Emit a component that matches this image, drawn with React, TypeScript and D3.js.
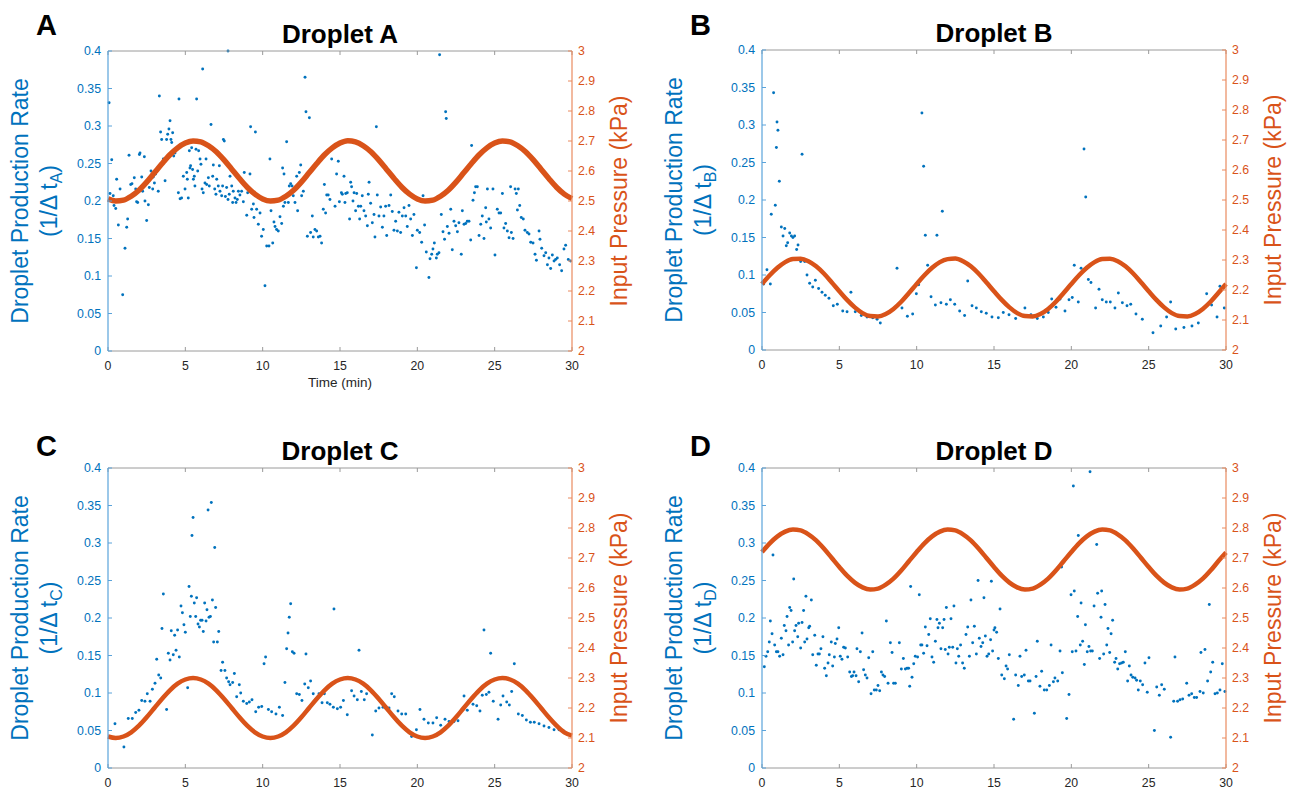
import * as d3 from 'd3'

const FONT = "'Liberation Sans', Arial, Helvetica, sans-serif"
const BLUE = '#0072BD'
const BLUE_AXIS = '#5aa3da'
const ORANGE = '#D95319'
const ORANGE_AXIS = '#e98a5f'
const GRAY_AXIS = '#9a9a9a'

// tick values
const X_TICKS = [0, 5, 10, 15, 20, 25, 30]
const RATE_TICKS = [0, 0.05, 0.1, 0.15, 0.2, 0.25, 0.3, 0.35, 0.4]
const PRESSURE_TICKS = [2, 2.1, 2.2, 2.3, 2.4, 2.5, 2.6, 2.7, 2.8, 2.9, 3]

// sample times of the pressure trace (min)
const PRESSURE_TIMES = [
  0, 0.5, 1, 1.5, 2, 2.5, 3, 3.5, 4, 4.5, 5, 5.5, 6, 6.5, 7, 7.5, 8, 8.5, 9, 9.5,
  10, 10.5, 11, 11.5, 12, 12.5, 13, 13.5, 14, 14.5, 15, 15.5, 16, 16.5, 17, 17.5, 18, 18.5, 19, 19.5,
  20, 20.5, 21, 21.5, 22, 22.5, 23, 23.5, 24, 24.5, 25, 25.5, 26, 26.5, 27, 27.5, 28, 28.5, 29, 29.5,
  30,
]

// input pressure (kPa)
const pressureA = [
  2.507, 2.5, 2.503, 2.516, 2.536, 2.563, 2.594, 2.625, 2.654, 2.677, 2.693, 2.7, 2.697, 2.684, 2.664, 2.637, 2.606, 2.575, 2.546, 2.523,
  2.507, 2.5, 2.503, 2.516, 2.536, 2.563, 2.594, 2.625, 2.654, 2.677, 2.693, 2.701, 2.697, 2.684, 2.664, 2.637, 2.606, 2.575, 2.546, 2.523,
  2.507, 2.5, 2.503, 2.516, 2.536, 2.563, 2.594, 2.625, 2.654, 2.677, 2.693, 2.7, 2.697, 2.684, 2.664, 2.637, 2.606, 2.575, 2.546, 2.523,
  2.508,
]
const pressureB = [
  2.22, 2.249, 2.274, 2.293, 2.303, 2.304, 2.296, 2.279, 2.255, 2.226, 2.196, 2.167, 2.142, 2.123, 2.113, 2.112, 2.12, 2.137, 2.161, 2.19,
  2.22, 2.249, 2.274, 2.293, 2.303, 2.305, 2.296, 2.279, 2.255, 2.226, 2.196, 2.167, 2.142, 2.123, 2.113, 2.112, 2.12, 2.137, 2.161, 2.19,
  2.22, 2.249, 2.274, 2.293, 2.303, 2.304, 2.296, 2.279, 2.255, 2.226, 2.196, 2.167, 2.142, 2.123, 2.113, 2.112, 2.12, 2.137, 2.161, 2.19,
  2.22,
]
const pressureC = [
  2.105, 2.1, 2.105, 2.119, 2.141, 2.169, 2.2, 2.231, 2.259, 2.281, 2.295, 2.3, 2.295, 2.281, 2.259, 2.231, 2.2, 2.169, 2.141, 2.119,
  2.105, 2.1, 2.105, 2.119, 2.141, 2.169, 2.2, 2.231, 2.259, 2.281, 2.295, 2.3, 2.295, 2.281, 2.259, 2.231, 2.2, 2.169, 2.141, 2.119,
  2.105, 2.1, 2.105, 2.119, 2.141, 2.169, 2.2, 2.231, 2.259, 2.281, 2.295, 2.3, 2.295, 2.281, 2.259, 2.231, 2.2, 2.169, 2.141, 2.119,
  2.108,
]
const pressureD = [
  2.72, 2.749, 2.772, 2.788, 2.795, 2.792, 2.779, 2.759, 2.732, 2.701, 2.67, 2.641, 2.618, 2.602, 2.595, 2.598, 2.611, 2.631, 2.658, 2.689,
  2.72, 2.749, 2.772, 2.788, 2.795, 2.792, 2.779, 2.759, 2.732, 2.701, 2.67, 2.641, 2.618, 2.602, 2.595, 2.598, 2.611, 2.631, 2.658, 2.689,
  2.72, 2.749, 2.772, 2.788, 2.795, 2.792, 2.779, 2.759, 2.732, 2.701, 2.67, 2.641, 2.618, 2.602, 2.595, 2.598, 2.611, 2.631, 2.658, 2.689,
  2.718,
]

// droplet production rate points [time (min), 1/dt]
const rateA = [
  [0.07, 0.331], [0.24, 0.255], [0.13, 0.21], [0.34, 0.207], [0.39, 0.194], [0.5, 0.19], [0.56, 0.229], [0.67, 0.168],
  [0.78, 0.216], [0.95, 0.075], [1.1, 0.137], [1.21, 0.165], [1.27, 0.176], [1.36, 0.261], [1.47, 0.222], [1.55, 0.223],
  [1.7, 0.231], [1.79, 0.216], [1.85, 0.199], [1.92, 0.198], [2.03, 0.262], [2.07, 0.264], [2.18, 0.232], [2.24, 0.213],
  [2.35, 0.259], [2.39, 0.2], [2.5, 0.174], [2.61, 0.195], [2.67, 0.218], [2.78, 0.24], [2.89, 0.216], [2.93, 0.232],
  [3.0, 0.224], [3.08, 0.236], [3.15, 0.24], [3.25, 0.213], [3.32, 0.34], [3.4, 0.292], [3.47, 0.282], [3.58, 0.256],
  [3.69, 0.227], [3.79, 0.282], [3.86, 0.289], [3.94, 0.296], [4.01, 0.307], [4.07, 0.282], [4.12, 0.278], [4.18, 0.291],
  [4.25, 0.26], [4.33, 0.264], [4.44, 0.269], [4.55, 0.211], [4.59, 0.336], [4.66, 0.203], [4.76, 0.204], [4.87, 0.233],
  [4.98, 0.216], [5.09, 0.238], [5.13, 0.229], [5.19, 0.204], [5.26, 0.267], [5.3, 0.244], [5.34, 0.247], [5.41, 0.271],
  [5.47, 0.242], [5.52, 0.229], [5.58, 0.233], [5.62, 0.22], [5.69, 0.269], [5.73, 0.336], [5.8, 0.24], [5.86, 0.267],
  [5.95, 0.256], [6.01, 0.249], [6.08, 0.216], [6.12, 0.376], [6.16, 0.211], [6.27, 0.224], [6.34, 0.256], [6.38, 0.222],
  [6.49, 0.231], [6.55, 0.22], [6.66, 0.302], [6.77, 0.233], [6.81, 0.248], [6.9, 0.216], [6.98, 0.209], [7.03, 0.229],
  [7.13, 0.22], [7.2, 0.247], [7.24, 0.213], [7.35, 0.207], [7.41, 0.22], [7.46, 0.282], [7.52, 0.28], [7.59, 0.206],
  [7.67, 0.218], [7.76, 0.202], [7.76, 0.4], [7.84, 0.209], [7.89, 0.233], [8.0, 0.22], [8.06, 0.198], [8.1, 0.213],
  [8.21, 0.204], [8.28, 0.198], [8.36, 0.202], [8.43, 0.213], [8.53, 0.208], [8.64, 0.213], [8.75, 0.199], [8.81, 0.238],
  [8.97, 0.181], [9.03, 0.211], [9.18, 0.236], [9.22, 0.299], [9.29, 0.189], [9.4, 0.196], [9.44, 0.178], [9.53, 0.292],
  [9.61, 0.189], [9.72, 0.169], [9.83, 0.184], [9.93, 0.153], [10.04, 0.162], [10.15, 0.087], [10.26, 0.14], [10.41, 0.14],
  [10.47, 0.256], [10.54, 0.187], [10.65, 0.144], [10.73, 0.172], [10.8, 0.166], [10.9, 0.162], [11.01, 0.16], [11.12, 0.179],
  [11.23, 0.17], [11.29, 0.244], [11.34, 0.193], [11.38, 0.236], [11.44, 0.198], [11.55, 0.279], [11.66, 0.198], [11.72, 0.22],
  [11.81, 0.223], [11.9, 0.22], [11.98, 0.207], [12.09, 0.198], [12.2, 0.233], [12.26, 0.187], [12.37, 0.238], [12.46, 0.248],
  [12.52, 0.207], [12.63, 0.213], [12.74, 0.365], [12.8, 0.319], [12.89, 0.153], [13.02, 0.311], [13.1, 0.158], [13.21, 0.18],
  [13.27, 0.152], [13.38, 0.162], [13.49, 0.16], [13.6, 0.152], [13.71, 0.153], [13.81, 0.144], [13.92, 0.189], [13.99, 0.222],
  [14.07, 0.184], [14.14, 0.208], [14.24, 0.208], [14.35, 0.202], [14.46, 0.256], [14.57, 0.273], [14.68, 0.193], [14.78, 0.236],
  [14.89, 0.253], [14.96, 0.199], [15.09, 0.211], [15.15, 0.209], [15.26, 0.233], [15.32, 0.198], [15.37, 0.21], [15.47, 0.211],
  [15.62, 0.176], [15.69, 0.225], [15.75, 0.219], [15.84, 0.2], [15.91, 0.211], [16.01, 0.187], [16.08, 0.21], [16.19, 0.193],
  [16.27, 0.176], [16.34, 0.193], [16.44, 0.207], [16.55, 0.187], [16.66, 0.18], [16.77, 0.167], [16.83, 0.209], [16.88, 0.225],
  [16.98, 0.197], [17.09, 0.171], [17.2, 0.182], [17.26, 0.152], [17.35, 0.299], [17.41, 0.208], [17.52, 0.18], [17.63, 0.192],
  [17.74, 0.165], [17.84, 0.18], [17.95, 0.193], [18.02, 0.154], [18.17, 0.194], [18.28, 0.208], [18.38, 0.186], [18.49, 0.161],
  [18.6, 0.173], [18.71, 0.16], [18.81, 0.185], [18.92, 0.158], [19.03, 0.18], [19.14, 0.191], [19.25, 0.18], [19.35, 0.166],
  [19.46, 0.194], [19.57, 0.176], [19.68, 0.154], [19.78, 0.182], [19.94, 0.111], [20.0, 0.161], [20.15, 0.158], [20.28, 0.145],
  [20.37, 0.207], [20.47, 0.168], [20.58, 0.132], [20.75, 0.098], [20.82, 0.123], [20.93, 0.129], [21.01, 0.136], [21.1, 0.144],
  [21.23, 0.124], [21.29, 0.129], [21.4, 0.131], [21.44, 0.395], [21.55, 0.182], [21.66, 0.159], [21.76, 0.149], [21.83, 0.319],
  [21.87, 0.31], [21.94, 0.166], [22.05, 0.157], [22.16, 0.189], [22.26, 0.135], [22.37, 0.173], [22.48, 0.167], [22.59, 0.159],
  [22.69, 0.171], [22.84, 0.129], [22.91, 0.187], [23.02, 0.169], [23.13, 0.17], [23.23, 0.173], [23.34, 0.173], [23.45, 0.148],
  [23.51, 0.274], [23.6, 0.201], [23.69, 0.211], [23.77, 0.219], [23.88, 0.219], [23.99, 0.154], [24.1, 0.169], [24.2, 0.18],
  [24.31, 0.15], [24.42, 0.191], [24.46, 0.172], [24.53, 0.216], [24.63, 0.176], [24.74, 0.164], [24.89, 0.216], [25.02, 0.128],
  [25.17, 0.189], [25.28, 0.184], [25.39, 0.184], [25.5, 0.21], [25.6, 0.164], [25.71, 0.17], [25.82, 0.16], [25.93, 0.151],
  [26.03, 0.219], [26.08, 0.158], [26.19, 0.15], [26.32, 0.216], [26.4, 0.21], [26.47, 0.188], [26.53, 0.216], [26.62, 0.194],
  [26.72, 0.178], [26.85, 0.176], [26.96, 0.161], [27.11, 0.158], [27.22, 0.156], [27.33, 0.145], [27.48, 0.144], [27.61, 0.129],
  [27.7, 0.121], [27.87, 0.16], [27.93, 0.149], [28.04, 0.137], [28.19, 0.127], [28.3, 0.131], [28.41, 0.115], [28.51, 0.124],
  [28.62, 0.11], [28.73, 0.128], [28.84, 0.12], [28.94, 0.122], [29.05, 0.124], [29.2, 0.115], [29.33, 0.107], [29.48, 0.136],
  [29.59, 0.141], [29.76, 0.122], [29.91, 0.12],
]

const rateB = [
  [0.11, 0.088], [0.32, 0.107], [0.54, 0.088], [0.6, 0.181], [0.75, 0.343], [0.86, 0.193], [0.93, 0.27], [0.97, 0.304],
  [1.03, 0.293], [1.12, 0.225], [1.25, 0.164], [1.36, 0.152], [1.47, 0.162], [1.57, 0.139], [1.66, 0.143], [1.79, 0.156],
  [1.9, 0.152], [2.0, 0.15], [2.11, 0.152], [2.24, 0.134], [2.33, 0.14], [2.5, 0.118], [2.59, 0.261], [2.76, 0.118],
  [2.91, 0.1], [3.08, 0.089], [3.28, 0.084], [3.45, 0.093], [3.66, 0.082], [3.88, 0.077], [4.09, 0.073], [4.33, 0.069],
  [4.61, 0.059], [4.87, 0.061], [5.22, 0.052], [5.5, 0.051], [5.75, 0.077], [6.03, 0.051], [6.42, 0.046], [6.79, 0.044],
  [7.16, 0.043], [7.44, 0.041], [7.65, 0.036], [7.97, 0.047], [8.73, 0.109], [9.05, 0.056], [9.4, 0.045], [9.74, 0.048],
  [9.98, 0.075], [10.13, 0.087], [10.34, 0.316], [10.45, 0.245], [10.56, 0.153], [10.71, 0.113], [10.93, 0.071], [11.21, 0.06],
  [11.31, 0.153], [11.57, 0.063], [11.66, 0.185], [11.92, 0.061], [12.18, 0.067], [12.46, 0.061], [12.78, 0.052], [13.1, 0.046],
  [13.3, 0.092], [13.58, 0.059], [13.86, 0.056], [14.18, 0.051], [14.5, 0.049], [14.87, 0.044], [15.28, 0.043], [15.6, 0.05],
  [15.97, 0.047], [16.4, 0.042], [17.0, 0.056], [17.39, 0.047], [17.8, 0.042], [18.19, 0.044], [18.51, 0.05], [18.73, 0.068],
  [19.01, 0.057], [19.27, 0.068], [19.59, 0.052], [19.85, 0.067], [20.06, 0.07], [20.19, 0.113], [20.45, 0.064], [20.63, 0.109],
  [20.82, 0.268], [20.93, 0.204], [21.1, 0.094], [21.27, 0.09], [21.57, 0.056], [21.79, 0.081], [22.0, 0.067], [22.26, 0.064],
  [22.52, 0.064], [22.82, 0.056], [23.04, 0.076], [23.3, 0.063], [23.6, 0.059], [23.84, 0.061], [24.18, 0.048], [24.59, 0.041],
  [25.28, 0.023], [25.78, 0.032], [26.16, 0.044], [26.42, 0.064], [26.75, 0.028], [27.28, 0.03], [27.8, 0.032], [28.21, 0.036],
  [28.75, 0.075], [29.07, 0.06], [29.42, 0.044], [29.61, 0.085], [29.89, 0.056],
]

const rateC = [
  [0.45, 0.059], [1.03, 0.028], [1.31, 0.066], [1.57, 0.066], [1.79, 0.074], [2.0, 0.077], [2.18, 0.09], [2.39, 0.089],
  [2.54, 0.099], [2.72, 0.089], [2.87, 0.105], [3.04, 0.113], [3.15, 0.145], [3.28, 0.124], [3.41, 0.12], [3.49, 0.186],
  [3.58, 0.232], [3.79, 0.078], [3.9, 0.153], [4.01, 0.144], [4.09, 0.183], [4.22, 0.151], [4.31, 0.177], [4.4, 0.157],
  [4.5, 0.184], [4.61, 0.148], [4.72, 0.216], [4.81, 0.207], [4.91, 0.191], [5.0, 0.181], [5.15, 0.107], [5.24, 0.242],
  [5.32, 0.202], [5.39, 0.229], [5.43, 0.31], [5.5, 0.334], [5.58, 0.22], [5.67, 0.202], [5.73, 0.227], [5.82, 0.192],
  [5.91, 0.188], [5.99, 0.197], [6.08, 0.197], [6.16, 0.182], [6.25, 0.22], [6.34, 0.196], [6.4, 0.211], [6.47, 0.344],
  [6.53, 0.201], [6.62, 0.202], [6.68, 0.354], [6.75, 0.224], [6.83, 0.168], [6.9, 0.294], [6.96, 0.214], [7.07, 0.168],
  [7.16, 0.182], [7.31, 0.13], [7.41, 0.141], [7.56, 0.13], [7.67, 0.12], [7.8, 0.115], [7.89, 0.111], [8.06, 0.114],
  [8.17, 0.126], [8.32, 0.095], [8.49, 0.111], [8.58, 0.1], [8.75, 0.089], [8.97, 0.086], [9.14, 0.088], [9.31, 0.091],
  [9.55, 0.075], [9.74, 0.081], [9.94, 0.082], [10.09, 0.139], [10.19, 0.148], [10.37, 0.078], [10.58, 0.075], [10.86, 0.072],
  [11.08, 0.081], [11.29, 0.07], [11.44, 0.114], [11.55, 0.159], [11.64, 0.18], [11.72, 0.201], [11.81, 0.219], [11.92, 0.155],
  [12.03, 0.153], [12.2, 0.099], [12.37, 0.098], [12.54, 0.09], [12.72, 0.112], [12.8, 0.152], [12.95, 0.107], [13.1, 0.116],
  [13.27, 0.099], [13.43, 0.091], [13.64, 0.099], [13.84, 0.087], [13.99, 0.099], [14.18, 0.087], [14.35, 0.085], [14.57, 0.081],
  [14.61, 0.212], [14.83, 0.079], [15.04, 0.081], [15.22, 0.09], [15.47, 0.071], [15.75, 0.103], [15.91, 0.096], [16.12, 0.091],
  [16.23, 0.157], [16.38, 0.102], [16.57, 0.091], [16.72, 0.099], [17.09, 0.044], [17.31, 0.076], [17.52, 0.08], [17.78, 0.081],
  [17.95, 0.08], [18.17, 0.08], [18.34, 0.099], [18.51, 0.095], [18.75, 0.076], [18.99, 0.072], [19.25, 0.072], [19.63, 0.042],
  [19.94, 0.051], [20.17, 0.078], [20.43, 0.065], [20.71, 0.06], [21.01, 0.06], [21.25, 0.067], [21.51, 0.057], [21.79, 0.065],
  [22.05, 0.062], [22.37, 0.062], [22.63, 0.063], [23.02, 0.096], [23.23, 0.077], [23.34, 0.089], [23.6, 0.085], [23.84, 0.083],
  [24.05, 0.076], [24.2, 0.097], [24.31, 0.184], [24.46, 0.098], [24.63, 0.101], [24.74, 0.153], [24.91, 0.089], [25.22, 0.065],
  [25.39, 0.084], [25.54, 0.096], [25.78, 0.088], [25.95, 0.084], [26.1, 0.102], [26.27, 0.139], [26.53, 0.072], [26.79, 0.07],
  [27.05, 0.064], [27.31, 0.061], [27.56, 0.061], [27.87, 0.059], [28.19, 0.056], [28.51, 0.054], [28.84, 0.051], [29.16, 0.051],
  [29.48, 0.049], [29.76, 0.045],
]

const rateD = [
  [0.15, 0.135], [0.26, 0.149], [0.37, 0.155], [0.47, 0.168], [0.54, 0.196], [0.65, 0.179], [0.71, 0.284], [0.82, 0.164],
  [0.93, 0.155], [1.03, 0.155], [1.14, 0.149], [1.25, 0.173], [1.36, 0.151], [1.44, 0.19], [1.55, 0.183], [1.62, 0.202],
  [1.72, 0.164], [1.79, 0.214], [1.88, 0.21], [1.98, 0.168], [2.05, 0.252], [2.11, 0.183], [2.2, 0.19], [2.31, 0.175],
  [2.37, 0.193], [2.5, 0.16], [2.59, 0.194], [2.69, 0.21], [2.76, 0.168], [2.84, 0.229], [2.91, 0.172], [3.02, 0.187],
  [3.08, 0.189], [3.19, 0.224], [3.28, 0.151], [3.41, 0.177], [3.51, 0.137], [3.62, 0.152], [3.71, 0.152], [3.81, 0.159],
  [3.94, 0.175], [4.05, 0.133], [4.16, 0.123], [4.27, 0.14], [4.35, 0.151], [4.48, 0.168], [4.57, 0.136], [4.68, 0.148],
  [4.74, 0.166], [4.85, 0.172], [4.96, 0.187], [5.06, 0.149], [5.17, 0.145], [5.28, 0.161], [5.39, 0.16], [5.54, 0.148],
  [5.67, 0.128], [5.78, 0.122], [5.86, 0.123], [5.95, 0.128], [6.08, 0.123], [6.14, 0.159], [6.25, 0.115], [6.36, 0.155],
  [6.47, 0.18], [6.57, 0.131], [6.68, 0.124], [6.79, 0.12], [6.9, 0.147], [7.05, 0.099], [7.16, 0.155], [7.26, 0.104],
  [7.39, 0.104], [7.5, 0.11], [7.61, 0.103], [7.72, 0.128], [7.82, 0.124], [7.93, 0.122], [8.04, 0.196], [8.15, 0.113],
  [8.3, 0.167], [8.41, 0.154], [8.51, 0.113], [8.62, 0.113], [8.88, 0.167], [9.01, 0.132], [9.14, 0.146], [9.27, 0.132],
  [9.38, 0.133], [9.48, 0.133], [9.55, 0.109], [9.61, 0.242], [9.7, 0.121], [9.81, 0.139], [9.91, 0.149], [10.06, 0.148],
  [10.17, 0.231], [10.26, 0.164], [10.34, 0.164], [10.45, 0.153], [10.56, 0.188], [10.67, 0.163], [10.78, 0.178], [10.88, 0.199],
  [10.99, 0.148], [11.1, 0.141], [11.21, 0.169], [11.31, 0.198], [11.38, 0.187], [11.47, 0.193], [11.57, 0.159], [11.68, 0.187],
  [11.77, 0.198], [11.85, 0.158], [11.92, 0.214], [12.03, 0.152], [12.11, 0.161], [12.22, 0.199], [12.33, 0.161], [12.41, 0.216],
  [12.54, 0.14], [12.63, 0.159], [12.72, 0.149], [12.84, 0.164], [12.97, 0.14], [13.08, 0.133], [13.19, 0.178], [13.3, 0.188],
  [13.41, 0.149], [13.51, 0.224], [13.62, 0.167], [13.73, 0.189], [13.86, 0.152], [13.97, 0.25], [14.05, 0.173], [14.16, 0.162],
  [14.27, 0.167], [14.35, 0.227], [14.44, 0.176], [14.55, 0.149], [14.66, 0.152], [14.78, 0.171], [14.83, 0.249], [14.91, 0.156],
  [15.0, 0.184], [15.06, 0.187], [15.17, 0.181], [15.28, 0.146], [15.39, 0.212], [15.5, 0.124], [15.67, 0.119], [15.78, 0.136],
  [15.88, 0.132], [15.99, 0.151], [16.27, 0.065], [16.4, 0.124], [16.57, 0.11], [16.68, 0.149], [16.79, 0.122], [16.96, 0.124],
  [17.07, 0.157], [17.22, 0.116], [17.33, 0.116], [17.61, 0.073], [17.72, 0.122], [17.8, 0.169], [17.97, 0.109], [18.08, 0.129],
  [18.25, 0.104], [18.41, 0.104], [18.58, 0.11], [18.69, 0.164], [18.84, 0.115], [18.94, 0.12], [19.12, 0.116], [19.27, 0.156],
  [19.37, 0.268], [19.42, 0.127], [19.7, 0.066], [19.85, 0.098], [19.98, 0.231], [20.06, 0.155], [20.13, 0.376], [20.19, 0.236],
  [20.3, 0.156], [20.41, 0.202], [20.45, 0.31], [20.58, 0.164], [20.63, 0.22], [20.73, 0.169], [20.84, 0.138], [20.91, 0.191],
  [21.03, 0.155], [21.14, 0.162], [21.21, 0.395], [21.25, 0.156], [21.36, 0.156], [21.47, 0.216], [21.64, 0.298], [21.7, 0.233],
  [21.83, 0.146], [21.92, 0.201], [21.96, 0.236], [22.09, 0.152], [22.18, 0.218], [22.29, 0.164], [22.37, 0.186], [22.48, 0.154],
  [22.57, 0.179], [22.67, 0.197], [22.8, 0.141], [22.89, 0.146], [23.0, 0.132], [23.12, 0.139], [23.25, 0.14], [23.36, 0.141],
  [23.49, 0.155], [23.64, 0.116], [23.75, 0.136], [23.86, 0.124], [23.97, 0.121], [24.12, 0.12], [24.22, 0.117], [24.33, 0.104],
  [24.46, 0.116], [24.61, 0.111], [24.76, 0.14], [24.91, 0.101], [25.02, 0.147], [25.37, 0.05], [25.52, 0.108], [25.69, 0.097],
  [25.84, 0.111], [26.01, 0.105], [26.42, 0.041], [26.62, 0.089], [26.7, 0.148], [26.87, 0.089], [27.03, 0.091], [27.2, 0.092],
  [27.46, 0.113], [27.61, 0.097], [27.78, 0.099], [27.95, 0.094], [28.1, 0.094], [28.32, 0.102], [28.38, 0.154], [28.53, 0.1],
  [28.64, 0.158], [28.81, 0.116], [28.92, 0.218], [29.01, 0.128], [29.14, 0.141], [29.29, 0.099], [29.44, 0.1], [29.61, 0.104],
  [29.76, 0.139], [29.93, 0.102],
]

const PANELS = [
  { id: 'A', rate: rateA, pressure: pressureA, lineWidth: 5.5, x0: 108, x1: 572, y0: 51, y1: 351, letterY: 35, timeLabel: true },
  { id: 'B', rate: rateB, pressure: pressureB, lineWidth: 4.5, x0: 762, x1: 1226, y0: 50, y1: 350, letterY: 35, timeLabel: false },
  { id: 'C', rate: rateC, pressure: pressureC, lineWidth: 4.5, x0: 108, x1: 572, y0: 468, y1: 768, letterY: 456, timeLabel: false },
  { id: 'D', rate: rateD, pressure: pressureD, lineWidth: 4.5, x0: 762, x1: 1226, y0: 468, y1: 768, letterY: 456, timeLabel: false },
]

function Panel({ p }) {
  const { x0, x1, y0, y1 } = p
  const x = d3.scaleLinear().domain([0, 30]).range([x0, x1])
  const yL = d3.scaleLinear().domain([0, 0.4]).range([y1, y0])
  const yR = d3.scaleLinear().domain([2, 3]).range([y1, y0])
  const cy = (y0 + y1) / 2

  const line = d3.line<number>()
    .x((_, i) => x(PRESSURE_TIMES[i]))
    .y(d => yR(d))
    .curve(d3.curveMonotoneX)

  return (
    <g>
      {/* panel letter + title */}
      <text x={x0 - 72} y={p.letterY} fontSize={29} fontWeight="bold" fill="#000">{p.id}</text>
      <text x={(x0 + x1) / 2} y={y0 - 8} textAnchor="middle" fontSize={26} fontWeight="bold" fill="#000">
        Droplet {p.id}
      </text>

      {/* scatter */}
      {p.rate.map(([t, v], i) => (
        <circle key={i} cx={x(t)} cy={yL(v)} r={1.45} fill={BLUE} />
      ))}

      {/* pressure trace */}
      <path d={line(p.pressure) ?? ''} fill="none" stroke={ORANGE} strokeWidth={p.lineWidth} strokeLinejoin="round" />

      {/* frame */}
      <line x1={x0} x2={x1} y1={y0} y2={y0} stroke={GRAY_AXIS} strokeWidth={1} />
      <line x1={x0} x2={x1} y1={y1} y2={y1} stroke={GRAY_AXIS} strokeWidth={1} />
      {X_TICKS.map(t => (
        <g key={t}>
          <line x1={x(t)} x2={x(t)} y1={y1} y2={y1 - 4} stroke={GRAY_AXIS} />
          <line x1={x(t)} x2={x(t)} y1={y0} y2={y0 + 4} stroke={GRAY_AXIS} />
          <text x={x(t)} y={y1 + 19} textAnchor="middle" fontSize={12.3} fill="#262626">{t}</text>
        </g>
      ))}

      {/* left axis */}
      <line x1={x0} x2={x0} y1={y0} y2={y1} stroke={BLUE_AXIS} strokeWidth={1.2} />
      {RATE_TICKS.map(v => (
        <g key={v}>
          <line x1={x0} x2={x0 + 4} y1={yL(v)} y2={yL(v)} stroke={BLUE_AXIS} />
          <text x={x0 - 7} y={yL(v)} dy="0.35em" textAnchor="end" fontSize={12.3} fill={BLUE}>{v}</text>
        </g>
      ))}
      <text transform={`translate(${x0 - 80},${cy}) rotate(-90)`} textAnchor="middle" fontSize={23} fill={BLUE}>
        Droplet Production Rate
      </text>
      <text transform={`translate(${x0 - 51},${cy}) rotate(-90)`} textAnchor="middle" fontSize={23} fill={BLUE}>
        <tspan>(1/Δ t</tspan>
        <tspan dy={5} fontSize={16}>{p.id}</tspan>
        <tspan dy={-5}>)</tspan>
      </text>

      {/* right axis */}
      <line x1={x1} x2={x1} y1={y0} y2={y1} stroke={ORANGE_AXIS} strokeWidth={1.2} />
      {PRESSURE_TICKS.map(v => (
        <g key={v}>
          <line x1={x1} x2={x1 - 4} y1={yR(v)} y2={yR(v)} stroke={ORANGE_AXIS} />
          <text x={x1 + 6} y={yR(v)} dy="0.35em" fontSize={12.3} fill={ORANGE}>{v}</text>
        </g>
      ))}
      <text transform={`translate(${x1 + 55},${cy}) rotate(-90)`} textAnchor="middle" fontSize={23} fill={ORANGE}>
        Input Pressure (kPa)
      </text>

      {p.timeLabel && (
        <text x={(x0 + x1) / 2} y={y1 + 36} textAnchor="middle" fontSize={13.5} fill="#262626">Time (min)</text>
      )}
    </g>
  )
}

export default function App() {
  return (
    <svg
      width={1291}
      height={791}
      style={{ position: 'absolute', left: 0, top: 0, background: '#fff', fontFamily: FONT }}
    >
      {PANELS.map(p => <Panel key={p.id} p={p} />)}
    </svg>
  )
}
